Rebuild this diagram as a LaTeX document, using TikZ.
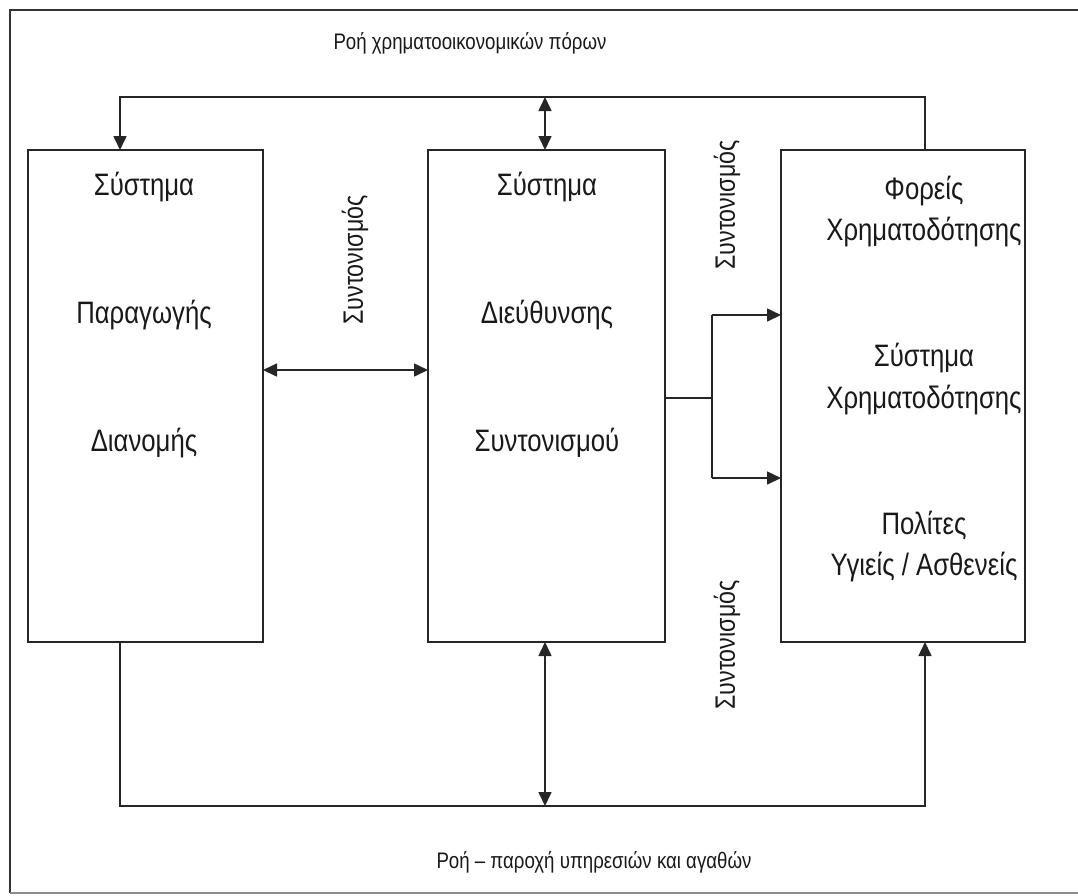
\documentclass[tikz,border=0pt]{standalone}
\usepackage{fontspec}
\setmainfont{Liberation Sans}[FakeStretch=0.83]
\usetikzlibrary{arrows.meta}
\begin{document}
\begin{tikzpicture}[x=1pt,y=-1pt,
  box/.style={draw=black!85, line width=1.6pt, anchor=north west, inner sep=0pt, outer sep=0pt},
  ln/.style={draw=black!85, line width=1.6pt},
  tip/.style={-{Triangle[length=14pt,width=13pt]}},
  tips/.style={{Triangle[length=14pt,width=13pt]}-{Triangle[length=14pt,width=13pt]}},
  bt/.style={font=\fontsize{31}{37}\selectfont, anchor=base, inner sep=0pt, text=black!90},
  lab/.style={font=\fontsize{22.5}{27}\selectfont, inner sep=0pt, text=black!90},
  rlab/.style={font=\fontsize{28}{32}\selectfont, inner sep=0pt, rotate=90, text=black!90}
]
\useasboundingbox (0,0) rectangle (1078,895);
% outer frame
\draw[black!80, line width=1.5pt] (1078,10) -- (10,10) -- (10,893);
\draw[black!45, line width=1.5pt] (10,893) -- (1078,893);

% boxes
\node[box, minimum width=235pt, minimum height=492pt] (L) at (28,150) {};
\node[box, minimum width=237pt, minimum height=492pt] (M) at (428,150) {};
\node[box, minimum width=244pt, minimum height=492pt] (R) at (781,150) {};

% coordinates
\coordinate (t1) at (120,97);
\coordinate (t2) at (925,97);
\coordinate (tm) at (545,97);
\coordinate (h) at (0,370);
\coordinate (j) at (712,398);
\coordinate (ja) at (712,315);
\coordinate (jb) at (712,478);
\coordinate (b1) at (120,806);
\coordinate (b2) at (925,806);
\coordinate (bm) at (545,806);

% top flow
\draw[ln, tip] (t2 |- R.north) -- (t2) -- (t1) -- (t1 |- L.north);
\draw[ln, tips] (tm) -- (tm |- M.north);
% horizontal coordination
\draw[ln, tips] (L.east |- h) -- (M.west |- h);
% right branch
\draw[ln] (M.east |- j) -- (j);
\draw[ln] (ja) -- (jb);
\draw[ln, tip] (ja) -- (R.west |- ja);
\draw[ln, tip] (jb) -- (R.west |- jb);
% bottom flow
\draw[ln, tip] (b1 |- L.south) -- (b1) -- (b2) -- (b2 |- R.south);
\draw[ln, tips] (bm) -- (bm |- M.south);

% box texts
\node[bt] (l1) at (144,195) {Σύστημα};
\node[bt] (l2) at (144,323) {Παραγωγής};
\node[bt] (l3) at (144,451) {Διανομής};
\node[bt] (m1) at (547,195) {Σύστημα};
\node[bt] (m2) at (547,323) {Διεύθυνσης};
\node[bt] (m3) at (547,451) {Συντονισμού};
\node[bt] (r1) at (924,199) {Φορείς};
\node[bt] (r2) at (924,240) {Χρηματοδότησης};
\node[bt] (r3) at (924,366) {Σύστημα};
\node[bt] (r4) at (924,408) {Χρηματοδότησης};
\node[bt] (r5) at (924,534) {Πολίτες};
\node[bt] (r6) at (924,575) {Υγιείς / Ασθενείς};

% labels
\node[lab] (top) at (470,43) {Ροή χρηματοοικονομικών πόρων};
\node[lab] (bot) at (594,862) {Ροή – παροχή υπηρεσιών και αγαθών};
\node[rlab] (s1) at (355,260) {Συντονισμός};
\node[rlab] (s2) at (727,205) {Συντονισμός};
\node[rlab] (s3) at (727,645) {Συντονισμός};
\end{tikzpicture}
\end{document}
